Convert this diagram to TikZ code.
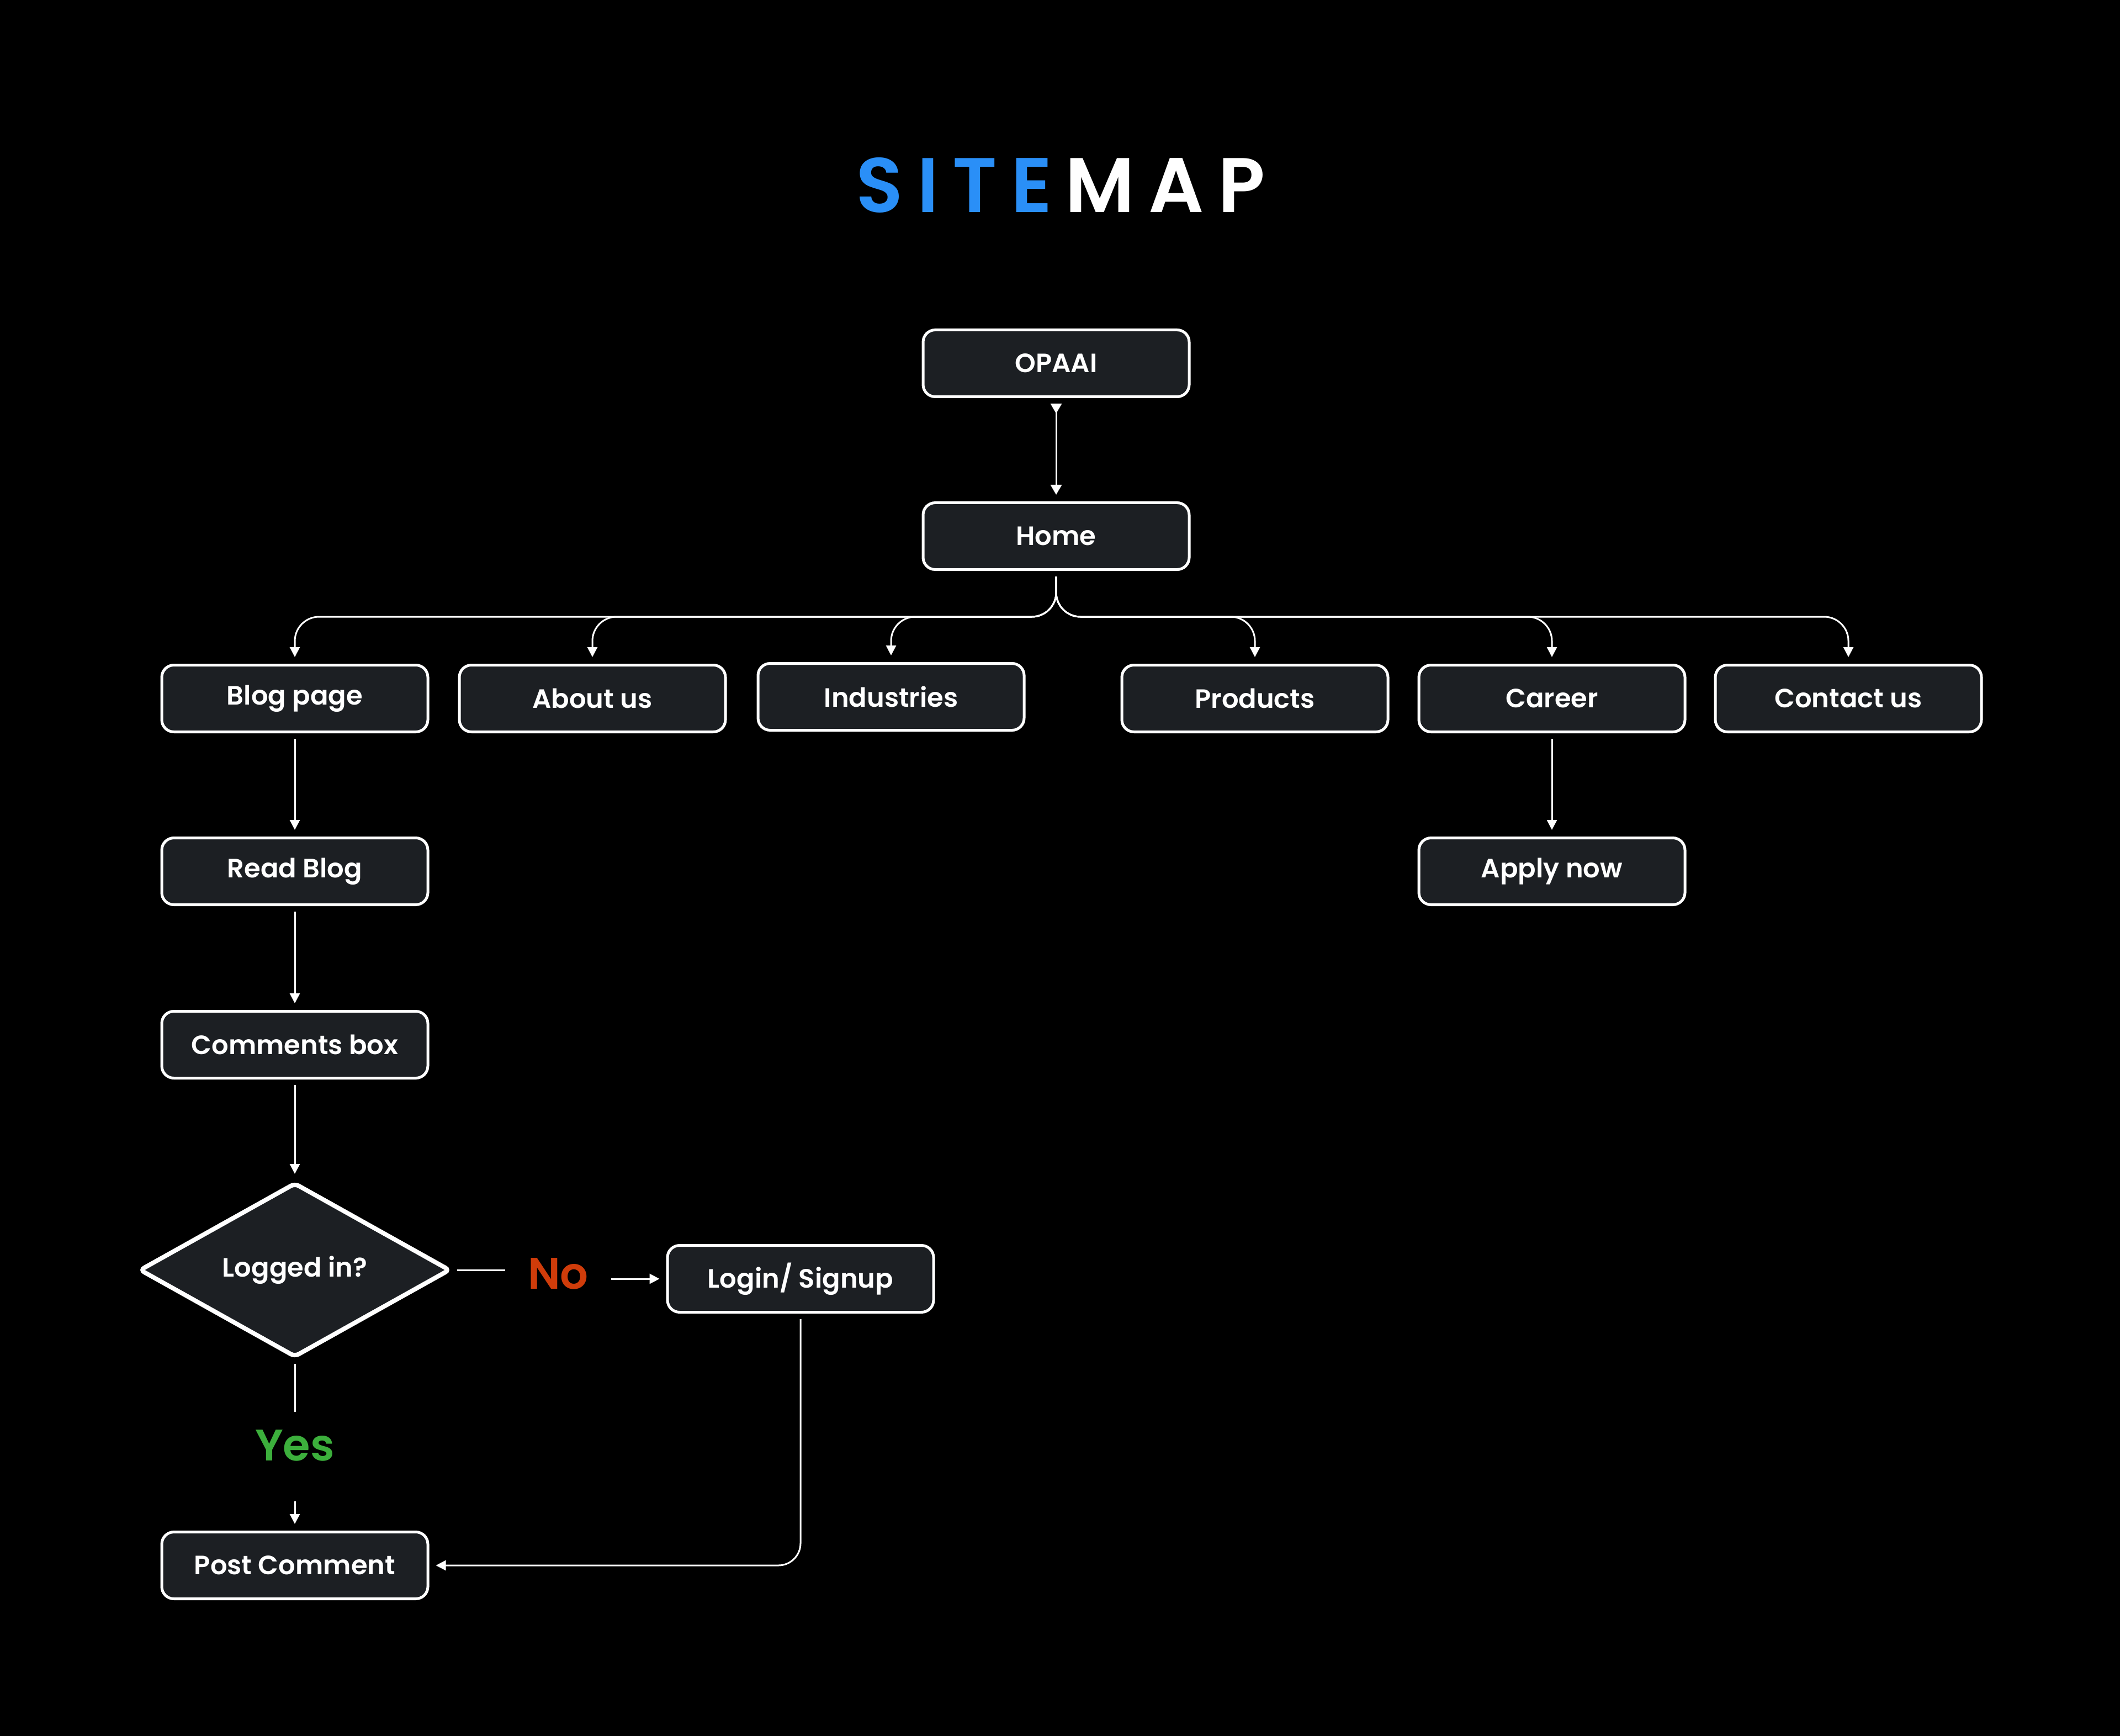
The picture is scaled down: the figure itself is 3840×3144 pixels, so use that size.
\documentclass[tikz,border=0pt]{standalone}
\usepackage{fontspec}
\setmainfont{Poppins}[BoldFont={* SemiBold}]
\usetikzlibrary{shapes.geometric,arrows.meta}
\definecolor{boxfill}{HTML}{1C1F23}
\definecolor{titleblue}{HTML}{2A8FF7}
\definecolor{nored}{HTML}{D03C0A}
\definecolor{yesgreen}{HTML}{3CAF3C}
\begin{document}
\begin{tikzpicture}[x=0.25pt,y=-0.25pt,
  box/.style={draw=white, line width=1.25pt, fill=boxfill, rounded corners=5.5pt,
    minimum width=120.5pt, minimum height=30.25pt, inner sep=0pt, text=white,
    font=\bfseries\fontsize{12}{14}\selectfont},
  decision/.style={diamond, draw=white, line width=2pt, fill=boxfill, rounded corners=2pt,
    minimum width=140.75pt, minimum height=79pt, shape aspect=1.78, inner sep=0pt,
    text=white, font=\bfseries\fontsize{12}{14}\selectfont},
  conn/.style={draw=white, line width=0.75pt, -{Triangle[length=4.5pt,width=4.5pt]},
    shorten >=3pt, shorten <=2.5pt},
  plain/.style={draw=white, line width=0.75pt},
  lbl/.style={font=\bfseries\fontsize{20}{24}\selectfont, inner sep=0pt}
]
\useasboundingbox (0,0) rectangle (3840,3144);
\fill[black] (0,0) rectangle (3840,3144);

% title
\node[anchor=base, text=white, inner sep=0pt,
  font=\bfseries\fontsize{35}{40}\selectfont\addfontfeature{LetterSpace=18}] (title) at (1921,385)
  {{\color{titleblue}SITE}\kern0.17em MAP};

% nodes
\node[box] (opaai) at (1913,658) {OPAAI};
\node[box] (home) at (1913,971) {Home};
\node[box] (blog) at (534,1265) {Blog page};
\node[box] (about) at (1073,1265) {About us};
\node[box] (ind) at (1614,1262) {Industries};
\node[box] (prod) at (2273,1265) {Products};
\node[box] (career) at (2811,1265) {Career};
\node[box] (contact) at (3348,1265) {Contact us};
\node[box] (read) at (534,1578) {Read Blog};
\node[box] (apply) at (2811,1578) {Apply now};
\node[box] (comm) at (534,1892) {Comments box};
\node[decision] (dia) at (534,2300) {Logged in?};
\node[box] (login) at (1450,2316) {Login/ Signup};
\node[box] (post) at (534,2835) {Post Comment};
\node[lbl, text=nored] (no) at (1011,2307) {No};
\node[lbl, text=yesgreen] (yes) at (534,2618) {Yes};

\coordinate (jy) at (0,1117);

% connectors
\draw[plain, shorten <=2.5pt, shorten >=3pt,
  {Triangle[reversed,length=4.5pt,width=5pt]}-{Triangle[length=4.5pt,width=5pt]}]
  (opaai.south) -- (home.north);

\foreach \c in {blog,about,ind,prod,career,contact}{
  \draw[conn, rounded corners=11pt] (home.south) -- (home.south |- jy) -| (\c.north);
}

\draw[conn] (blog.south) -- (read.north);
\draw[conn] (read.south) -- (comm.north);
\draw[conn] (comm.south) -- (dia.north);
\draw[conn] (career.south) -- (apply.north);

\draw[plain, shorten <=2pt, shorten >=10pt] (dia.east) -- (dia.east -| no.west);
\draw[conn, shorten <=10pt] (no.east |- login.west) -- (login.west);

\draw[plain, shorten <=2pt, shorten >=8pt] (dia.south) -- (yes.north);
\draw[conn, shorten <=18pt] (yes.south) -- (post.north);

\draw[conn, rounded corners=10pt] (login.south) |- (post.east);
\end{tikzpicture}
\end{document}
